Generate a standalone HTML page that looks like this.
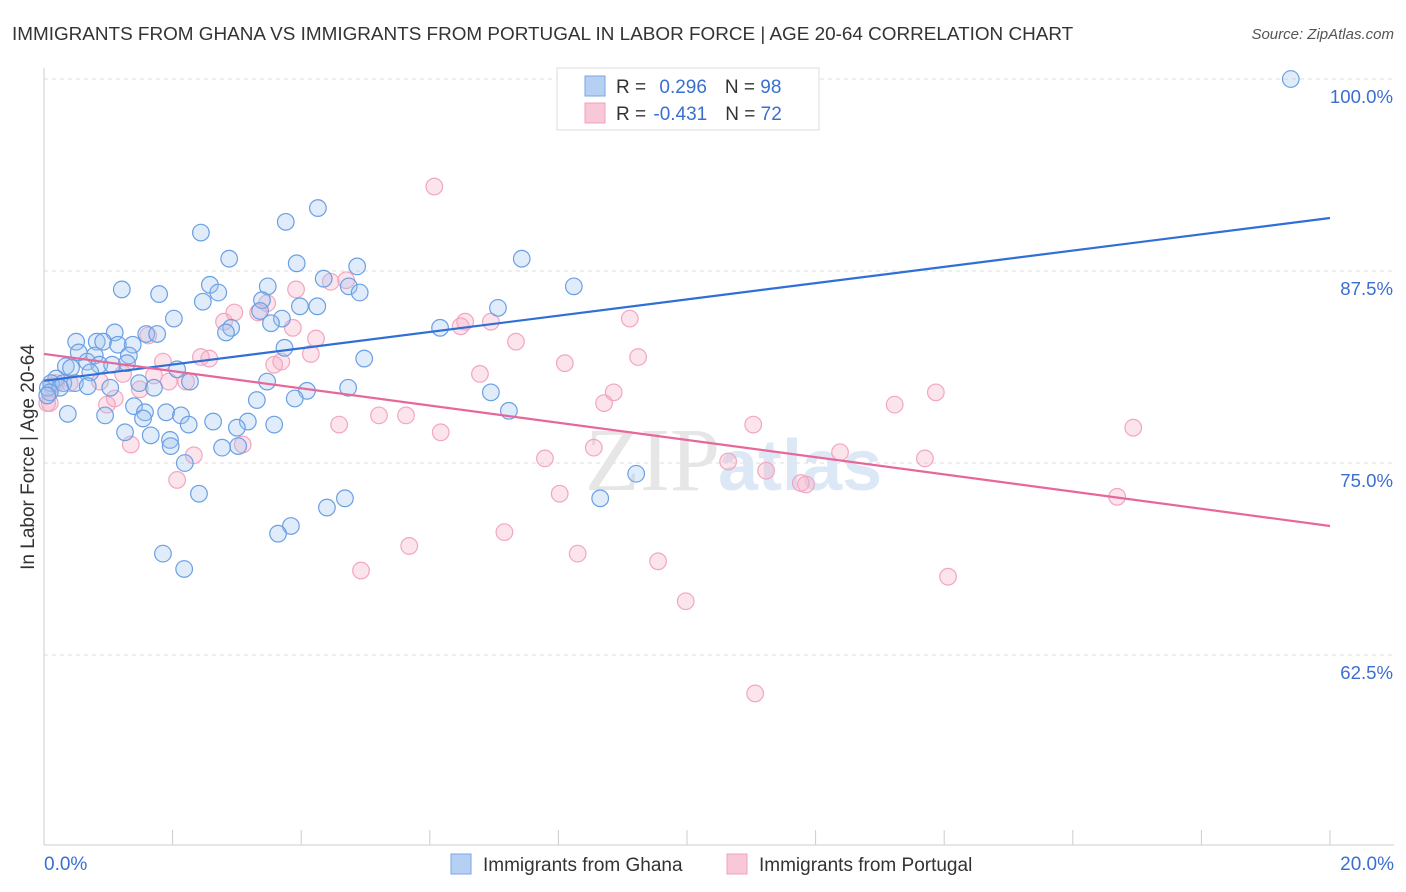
<!DOCTYPE html>
<html><head><meta charset="utf-8">
<style>
body{margin:0;background:#fff;font-family:"Liberation Sans",sans-serif;}
svg{display:block}
</style></head>
<body>
<svg id="chart" width="1406" height="892" viewBox="0 0 1406 892">
<text x="12" y="40" font-size="18.9" fill="#333">IMMIGRANTS FROM GHANA VS IMMIGRANTS FROM PORTUGAL IN LABOR FORCE | AGE 20-64 CORRELATION CHART</text>
<text x="1394" y="39" font-size="15" fill="#555" font-style="italic" text-anchor="end">Source: ZipAtlas.com</text>
<g id="grid"></g>
<text x="720" y="490" font-size="90" fill="#e6e6e6" text-anchor="end" font-family="Liberation Serif">ZIP</text>
<text x="718" y="490" font-size="72" fill="#dde8f6" font-weight="bold">atlas</text>
<g id="pts"></g>
<g id="trend"></g>
<text transform="translate(34,457) rotate(-90)" font-size="19" fill="#333" text-anchor="middle">In Labor Force | Age 20-64</text>
<text x="44" y="870" font-size="19" fill="#3a6fd1">0.0%</text>
<text x="1394" y="870" font-size="19" fill="#3a6fd1" text-anchor="end">20.0%</text>
<g>
<rect x="557" y="68" width="262" height="62" fill="#fff" stroke="#ddd"/>
<rect x="585" y="76" width="20" height="20" fill="#b5d0f3" stroke="#7aa6e6"/>
<rect x="585" y="103" width="20" height="20" fill="#f8c8d8" stroke="#f0a0bc"/>
<text x="616" y="93" font-size="19" fill="#333">R = <tspan fill="#3a6fd1" dx="8">0.296</tspan><tspan dx="18">N = </tspan><tspan fill="#3a6fd1">98</tspan></text>
<text x="616" y="120" font-size="19" fill="#333">R = <tspan fill="#3a6fd1" dx="2">-0.431</tspan><tspan dx="18">N = </tspan><tspan fill="#3a6fd1">72</tspan></text>
</g>
<rect x="451" y="854" width="20" height="20" fill="#b5d0f3" stroke="#7aa6e6"/>
<text x="483" y="871" font-size="19" fill="#333">Immigrants from Ghana</text>
<rect x="727" y="854" width="20" height="20" fill="#f8c8d8" stroke="#f0a0bc"/>
<text x="759" y="871" font-size="19" fill="#333">Immigrants from Portugal</text>
</svg>
<script>
const yTicks=[100,87.5,75,62.5];
const yTickLabels=["100.0%","87.5%","75.0%","62.5%"];
const xTicks=[0,2,4,6,8,10,12,14,16,18,20];
const ghanaX=[19.39,4.26,3.76,2.44,2.88,3.93,4.87,7.43,1.21,1.79,2.58,2.71,3.48,4.35,4.74,4.91,8.24,2.47,3.39,3.98,4.25,7.06,2.02,3.36,3.70,3.53,2.91,2.83,6.16,1.10,1.59,1.76,0.50,0.82,0.92,1.15,1.38,3.74,0.54,0.79,1.32,4.98,0.67,0.86,0.34,1.06,1.29,0.42,2.07,0.72,0.19,0.11,0.30,0.48,0.06,0.25,0.68,1.03,1.48,2.27,3.47,0.09,1.71,4.09,4.73,3.90,3.31,6.95,1.40,0.37,0.95,1.57,1.90,2.13,1.54,7.23,2.63,2.25,3.17,3.58,3.00,1.26,1.66,1.96,1.97,3.02,2.77,2.19,9.21,2.41,4.68,4.40,8.65,3.84,3.64,1.85,2.18,0.05];
const ghanaY=[100.0,91.6,90.7,90.0,88.3,88.0,87.8,88.3,86.3,86.0,86.6,86.1,86.5,87.0,86.5,86.1,86.5,85.5,85.6,85.2,85.2,85.1,84.4,84.9,84.4,84.1,83.8,83.5,83.8,83.5,83.4,83.4,82.9,82.9,82.9,82.7,82.7,82.5,82.2,82.0,82.0,81.8,81.6,81.4,81.3,81.4,81.5,81.2,81.1,80.9,80.5,80.2,80.2,80.2,79.9,79.9,80.0,79.9,80.2,80.3,80.3,79.6,79.9,79.7,79.9,79.2,79.1,79.6,78.7,78.2,78.1,78.3,78.3,78.1,77.9,78.4,77.7,77.5,77.7,77.5,77.3,77.0,76.8,76.5,76.1,76.1,76.0,75.0,74.3,73.0,72.7,72.1,72.7,70.9,70.4,69.1,68.1,79.4];
const portX=[6.07,3.92,4.70,4.46,3.47,2.96,3.33,2.80,9.11,6.55,6.95,6.48,3.87,1.62,4.23,7.34,4.15,9.24,1.85,2.44,2.57,8.10,3.58,3.69,1.23,6.78,1.71,2.21,1.94,0.19,0.40,0.87,1.49,8.86,13.87,1.10,8.71,13.23,0.98,0.09,5.21,5.63,4.59,11.03,6.17,16.94,1.35,3.09,8.55,12.38,2.33,7.79,10.64,13.70,11.23,2.07,11.77,11.85,8.02,16.69,7.16,5.68,8.30,9.55,4.93,14.06,9.98,11.06,0.05,0.12];
const portY=[93.0,86.3,86.9,86.8,85.4,84.8,84.8,84.2,84.4,84.2,84.2,83.9,83.8,83.3,83.1,82.9,82.1,81.9,81.6,81.9,81.8,81.5,81.4,81.6,80.8,80.8,80.7,80.3,80.3,80.2,80.2,80.3,79.8,79.6,79.6,79.2,78.9,78.8,78.8,78.9,78.1,78.1,77.5,77.5,77.0,77.3,76.2,76.2,76.0,75.7,75.5,75.3,75.1,75.3,74.5,73.9,73.7,73.6,73.0,72.8,70.5,69.6,69.1,68.6,68.0,67.6,66.0,60.0,78.9,80.0];
const ghanaTrend=[80.35,90.95];
const portTrend=[82.1,70.9];

const NS="http://www.w3.org/2000/svg";
const X0=44,X1=1330,Y100=79,PX=192/12.5;
const sx=v=>X0+(v/20)*(X1-X0);
const sy=v=>Y100+(100-v)*PX;
function mk(tag,attrs,parent){const e=document.createElementNS(NS,tag);for(const k in attrs)e.setAttribute(k,attrs[k]);parent.appendChild(e);return e;}
const grid=document.getElementById('grid');
yTicks.forEach((t,i)=>{
  const l=mk('line',{x1:X0,x2:1394,y1:sy(t),y2:sy(t),stroke:'#ddd','stroke-dasharray':'4,4'},grid);
  
  
  const tx=mk('text',{x:1393,y:sy(t)+24,'font-size':18.6,fill:'#3a6fd1','text-anchor':'end'},grid);
  tx.textContent=yTickLabels[i];
  
  
});
const ax=mk('line',{x1:X0,x2:X0,y1:68,y2:845,stroke:'#ccc'},grid);


const bx=mk('line',{x1:X0,x2:1394,y1:845,y2:845,stroke:'#ccc'},grid);


xTicks.forEach(t=>{
  const l=mk('line',{x1:sx(t),x2:sx(t),y1:830,y2:845,stroke:'#ccc'},grid);
  
  
});
const pts=document.getElementById('pts');
portX.forEach((x,i)=>{
  const c=mk('circle',{cx:sx(x),cy:sy(portY[i]),r:8.3,fill:'rgba(245,170,195,0.32)',stroke:'#f2a6c0','stroke-width':1.2},pts);
  
  
});
ghanaX.forEach((x,i)=>{
  const c=mk('circle',{cx:sx(x),cy:sy(ghanaY[i]),r:8.3,fill:'rgba(160,195,240,0.32)',stroke:'#6b9fe4','stroke-width':1.2},pts);
  
  
});
const tr=document.getElementById('trend');
const tb=mk('line',{x1:sx(0),y1:sy(ghanaTrend[0]),x2:sx(20),y2:sy(ghanaTrend[1]),stroke:'#2f6fd6','stroke-width':2.2},tr);


const tp=mk('line',{x1:sx(0),y1:sy(portTrend[0]),x2:sx(20),y2:sy(portTrend[1]),stroke:'#e8679a','stroke-width':2.2},tr);


</script>
</body></html>
